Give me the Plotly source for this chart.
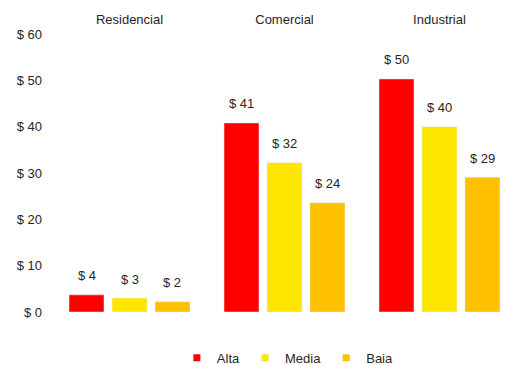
import plotly.graph_objects as go

categories = ["Residencial", "Comercial", "Industrial"]
series_names = ["Alta", "Media", "Baia"]
alta = [3.7, 40.8, 50.3]
media = [3.0, 32.2, 40.0]
baia = [2.2, 23.6, 29.1]
series_values = [alta, media, baia]
colors = ["#FF0000", "#FFE600", "#FFC000"]
y_ticks = [0, 10, 20, 30, 40, 50, 60]
y_tick_labels = ["$ %d" % v for v in y_ticks]

FONT = "Liberation Sans, Arial, sans-serif"
TXT = "#262626"
bargap = 0.168

fig = go.Figure()
for name, vals, col in zip(series_names, series_values, colors):
    fig.add_trace(go.Bar(x=categories, y=vals, name=name, marker_color=col,
                         showlegend=False, hoverinfo="skip"))
for name, col in zip(series_names, colors):
    fig.add_trace(go.Scatter(x=[None], y=[None], mode="markers", name=name,
                             marker=dict(symbol="square", size=7, color=col)))

slot = (1 - bargap) / len(series_names)
for si, vals in enumerate(series_values):
    off = (si - (len(series_names) - 1) / 2) * slot
    for ci, v in enumerate(vals):
        fig.add_annotation(x=ci + off, y=v, text="$ %d" % round(v), showarrow=False,
                           yanchor="middle", yshift=19,
                           font=dict(family=FONT, size=13, color=TXT))

fig.update_layout(
    width=510, height=365,
    margin=dict(l=52, r=0, t=34, b=53, autoexpand=False),
    paper_bgcolor="white", plot_bgcolor="white",
    barmode="group", bargap=bargap, bargroupgap=0.186,
    font=dict(family=FONT, size=13, color=TXT),
    xaxis=dict(side="top", range=[-0.5, 2.455], showgrid=False, showline=False,
               zeroline=False, ticks="", ticklabelstandoff=6,
               tickfont=dict(family=FONT, size=13, color=TXT)),
    yaxis=dict(range=[0, 60], tickvals=y_ticks, ticktext=y_tick_labels,
               showgrid=False, showline=False, zeroline=False, ticks="",
               ticklabelstandoff=9,
               tickfont=dict(family=FONT, size=13, color=TXT)),
    legend=dict(orientation="h", x=0.515, xanchor="center", y=-0.165, yanchor="middle",
                itemwidth=30, font=dict(family=FONT, size=13, color=TXT),
                tracegroupgap=0),
)

fig.write_html("out.html")
